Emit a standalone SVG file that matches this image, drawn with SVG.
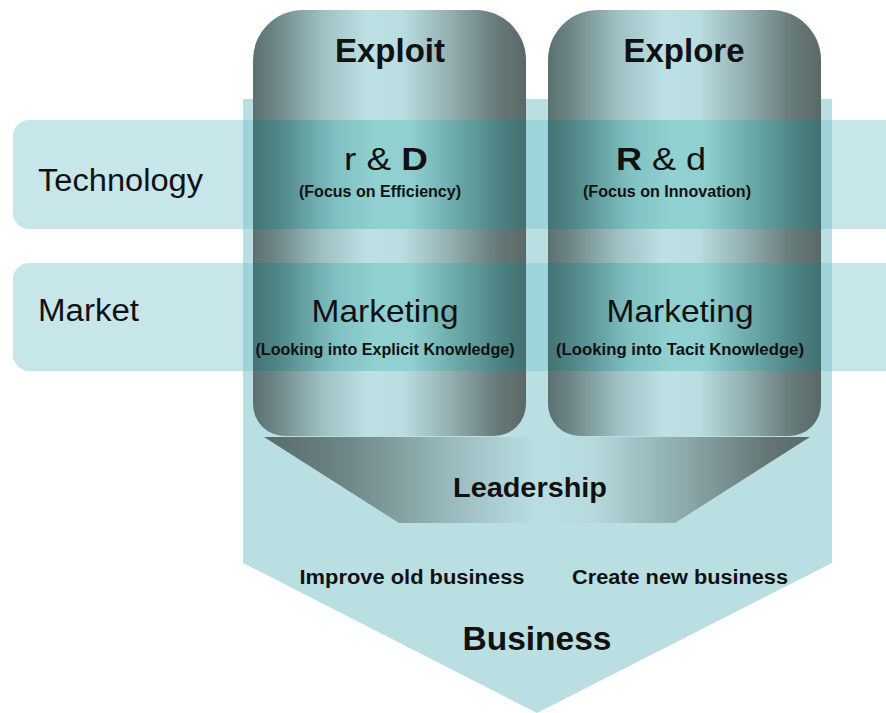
<svg xmlns="http://www.w3.org/2000/svg" width="886" height="713" viewBox="0 0 886 713">
<style>
text{font-family:"Liberation Sans",Arial,sans-serif;fill:#111;}
.b{font-weight:bold;}
.band{fill:#7ac6cb;fill-opacity:0.43;}
.col{fill:url(#colG);}
.colband{fill:url(#colBandG);}
</style>
<defs>
<linearGradient id="colG" x1="0" y1="0" x2="1" y2="0">
<stop offset="0" stop-color="#5b7070"/>
<stop offset="0.08" stop-color="#6d8586"/>
<stop offset="0.25" stop-color="#9dbfc2"/>
<stop offset="0.42" stop-color="#bde0e4"/>
<stop offset="0.55" stop-color="#b9dde0"/>
<stop offset="0.72" stop-color="#93b0b2"/>
<stop offset="0.9" stop-color="#677878"/>
<stop offset="1" stop-color="#5b6868"/>
</linearGradient>
<linearGradient id="colBandG" x1="0" y1="0" x2="1" y2="0">
<stop offset="0" stop-color="#437474"/>
<stop offset="0.1" stop-color="#52888a"/>
<stop offset="0.3" stop-color="#7fc0c2"/>
<stop offset="0.45" stop-color="#92d1d1"/>
<stop offset="0.58" stop-color="#8fcfcf"/>
<stop offset="0.75" stop-color="#6aa8a8"/>
<stop offset="0.92" stop-color="#4a7f80"/>
<stop offset="1" stop-color="#427070"/>
</linearGradient>
<linearGradient id="funG" gradientUnits="userSpaceOnUse" x1="264" y1="0" x2="810" y2="0">
<stop offset="0" stop-color="#586a6a"/>
<stop offset="0.15" stop-color="#6e8686"/>
<stop offset="0.35" stop-color="#9bbcbf"/>
<stop offset="0.5" stop-color="#b9dfe3"/>
<stop offset="0.6" stop-color="#b6dadd"/>
<stop offset="0.78" stop-color="#8aa6a8"/>
<stop offset="0.92" stop-color="#657676"/>
<stop offset="1" stop-color="#5a6868"/>
</linearGradient>
</defs>
<rect width="886" height="713" fill="#ffffff"/>

<g id="business">
<path d="M243,99 L832,99 L832,563 L537,713 L243,563 Z" fill="#b9dfe3"/>
</g>

<g id="technology-row">
<rect class="band" x="13" y="120" width="900" height="109" rx="16"/>
</g>
<g id="market-row">
<rect class="band" x="13" y="263" width="900" height="108" rx="16"/>
</g>

<g id="leadership">
<path d="M264,437 L810,437 L675,523 L399,523 Z" fill="url(#funG)"/>
<text class="b" x="530" y="497" font-size="28" text-anchor="middle" textLength="154" lengthAdjust="spacingAndGlyphs">Leadership</text>
</g>

<g id="exploit">
<path class="col" d="M253,60 A50,50 0 0 1 303,10 L476,10 A50,50 0 0 1 526,60 L526,404 A32,32 0 0 1 494,436 L285,436 A32,32 0 0 1 253,404 Z"/>
<rect class="colband" x="253" y="120" width="273" height="109"/>
<rect class="colband" x="253" y="263" width="273" height="108"/>
<text class="b" x="390" y="62" font-size="33" text-anchor="middle">Exploit</text>
</g>

<g id="explore">
<path class="col" d="M548,60 A50,50 0 0 1 598,10 L771,10 A50,50 0 0 1 821,60 L821,404 A32,32 0 0 1 789,436 L580,436 A32,32 0 0 1 548,404 Z"/>
<rect class="colband" x="548" y="120" width="273" height="109"/>
<rect class="colband" x="548" y="263" width="273" height="108"/>
<text class="b" x="684" y="62" font-size="33" text-anchor="middle">Explore</text>
</g>

<g id="exploit-technology">
<text x="386" y="170" font-size="32" text-anchor="middle" textLength="84" lengthAdjust="spacingAndGlyphs">r &amp; <tspan class="b">D</tspan></text>
<text class="b" x="380" y="197" font-size="16" text-anchor="middle" textLength="162" lengthAdjust="spacingAndGlyphs">(Focus on Efficiency)</text>
</g>
<g id="explore-technology">
<text x="661" y="170" font-size="32" text-anchor="middle" textLength="90" lengthAdjust="spacingAndGlyphs"><tspan class="b">R</tspan> &amp; d</text>
<text class="b" x="667" y="197" font-size="16" text-anchor="middle" textLength="168" lengthAdjust="spacingAndGlyphs">(Focus on Innovation)</text>
</g>
<g id="exploit-market">
<text x="385" y="322" font-size="32" text-anchor="middle" textLength="147" lengthAdjust="spacingAndGlyphs">Marketing</text>
<text class="b" x="385" y="355" font-size="16" text-anchor="middle" textLength="259" lengthAdjust="spacingAndGlyphs">(Looking into Explicit Knowledge)</text>
</g>
<g id="explore-market">
<text x="680" y="322" font-size="32" text-anchor="middle" textLength="147" lengthAdjust="spacingAndGlyphs">Marketing</text>
<text class="b" x="680" y="355" font-size="16" text-anchor="middle" textLength="248" lengthAdjust="spacingAndGlyphs">(Looking into Tacit Knowledge)</text>
</g>

<g id="labels">
<text x="38" y="191" font-size="31" textLength="165" lengthAdjust="spacingAndGlyphs">Technology</text>
<text x="38" y="321" font-size="31" textLength="101" lengthAdjust="spacingAndGlyphs">Market</text>
</g>

<g id="business-text">
<text class="b" x="412" y="584" font-size="20" text-anchor="middle" textLength="225" lengthAdjust="spacingAndGlyphs">Improve old business</text>
<text class="b" x="680" y="584" font-size="20" text-anchor="middle" textLength="216" lengthAdjust="spacingAndGlyphs">Create new business</text>
<text class="b" x="537" y="650" font-size="33" text-anchor="middle" textLength="149" lengthAdjust="spacingAndGlyphs">Business</text>
</g>
</svg>
